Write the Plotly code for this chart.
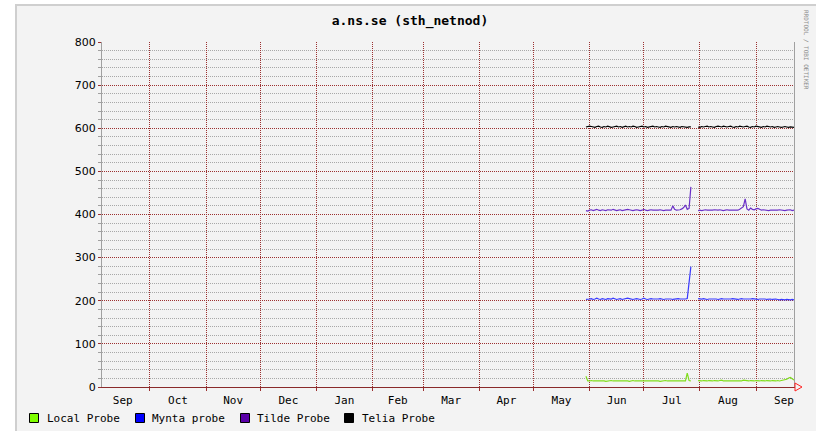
import pandas as pd
import plotly.graph_objects as go

# ---------------- data ----------------
dates_a = pd.date_range("2005-05-30", "2005-07-27", freq="D")   # 59 days
dates_b = pd.date_range("2005-07-31", "2005-09-22", freq="D")   # 54 days
gap_date = pd.Timestamp("2005-07-29")

local_a = [25, 14, 14, 15, 14, 14, 15, 14, 14, 15,
           14, 13, 14, 15, 15, 14, 14, 15, 14, 14,
           14, 15, 14, 14, 13, 14, 15, 14, 14, 15,
           14, 14, 15, 14, 14, 14, 15, 14, 14, 15,
           14, 13, 14, 14, 15, 14, 14, 14, 15, 14,
           14, 14, 15, 14, 14, 14, 32, 15, 14]
local_b = [15, 14, 14, 15, 14, 14, 15, 14, 14, 15,
           14, 14, 15, 16, 14, 14, 15, 14, 14, 15,
           14, 14, 15, 14, 14, 16, 15, 14, 14, 15,
           14, 14, 15, 14, 14, 15, 14, 14, 15, 14,
           14, 15, 14, 14, 15, 14, 15, 16, 17, 18,
           21, 22, 19, 16]

mynta_a = [203, 203, 204, 205, 203, 204, 206, 204, 203, 205,
           204, 203, 205, 204, 204, 206, 204, 203, 204, 205,
           203, 204, 204, 206, 205, 204, 203, 204, 205, 204,
           203, 204, 206, 204, 203, 204, 205, 204, 204, 203,
           204, 205, 204, 203, 204, 204, 205, 204, 203, 204,
           204, 205, 204, 204, 203, 204, 205, 241, 279]
mynta_b = [205, 204, 204, 205, 204, 203, 204, 204, 205, 204,
           204, 203, 204, 205, 204, 204, 203, 204, 204, 205,
           204, 204, 203, 204, 205, 204, 204, 204, 203, 204,
           205, 204, 204, 203, 204, 204, 205, 204, 203, 204,
           204, 203, 204, 204, 203, 202, 203, 202, 202, 203,
           202, 202, 203, 202]

tilde_a = [409, 408, 410, 411, 409, 410, 412, 410, 409, 411,
           410, 409, 411, 410, 410, 412, 410, 409, 410, 411,
           409, 410, 410, 412, 411, 410, 409, 410, 411, 410,
           409, 410, 412, 410, 409, 410, 411, 410, 410, 409,
           410, 411, 410, 409, 410, 410, 411, 410, 420, 412,
           410, 410, 411, 413, 416, 422, 412, 414, 464]
tilde_b = [409, 410, 409, 410, 411, 410, 410, 409, 410, 411,
           410, 410, 411, 410, 409, 410, 411, 410, 410, 411,
           410, 411, 410, 412, 416, 418, 436, 413, 410, 415,
           412, 411, 413, 414, 412, 410, 411, 410, 410, 409,
           410, 410, 409, 410, 410, 411, 410, 409, 409, 410,
           410, 411, 409, 410]

telia_a = [603, 604, 605, 604, 603, 602, 604, 605, 603, 602,
           604, 603, 605, 604, 602, 603, 604, 605, 603, 604,
           602, 604, 605, 603, 604, 603, 605, 604, 602, 603,
           604, 605, 603, 604, 602, 603, 604, 605, 603, 604,
           603, 602, 604, 603, 605, 604, 603, 602, 604, 603,
           604, 603, 602, 604, 603, 603, 602, 603, 603]
telia_b = [603, 602, 604, 603, 604, 605, 603, 604, 603, 602,
           604, 605, 604, 603, 605, 604, 603, 604, 605, 603,
           602, 604, 603, 605, 604, 603, 604, 605, 603, 602,
           604, 603, 605, 604, 603, 602, 604, 603, 605, 604,
           603, 604, 602, 603, 604, 603, 602, 603, 604, 603,
           602, 603, 603, 602]

series_names = ["Local Probe", "Mynta probe", "Tilde Probe", "Telia Probe"]
line_colors = ["#80dd1c", "#3a3aff", "#6a30c8", "#000000"]
legend_colors = ["#80ff00", "#0000ff", "#5a00a8", "#000000"]
y_range = [0, 800]
x_range = ["2004-09-04 12:00", "2005-09-22 00:00"]
title_text = "a.ns.se (sth_netnod)"

# ---------------- figure ----------------
W, H = 816, 431
L, R, T, B = 102, 22, 42, 44
PW, PH = W - L - R, H - T - B


def px_x(p):
    return (p - L) / PW


def px_y(p):
    return (H - B - p) / PH


x_all = list(dates_a) + [gap_date] + list(dates_b)
all_series = [(local_a, local_b), (mynta_a, mynta_b), (tilde_a, tilde_b), (telia_a, telia_b)]

fig = go.Figure()
for (sa, sb), name, col in zip(all_series, series_names, line_colors):
    fig.add_trace(go.Scatter(
        x=x_all, y=list(sa) + [None] + list(sb), mode="lines", name=name,
        line=dict(color=col, width=1.2), connectgaps=False, showlegend=False,
        hoverinfo="x+y+name"))

shapes = []
# outer canvas frame
shapes.append(dict(type="rect", xref="paper", yref="paper",
                   x0=px_x(16), x1=px_x(818), y0=px_y(433), y1=px_y(5),
                   fillcolor="#f3f3f3", line=dict(color="#cfcfcf", width=2), layer="below"))

# legend squares + labels
leg_sq_x = [34, 140, 245, 349]
leg_tx_x = [45, 150, 255, 360]
leg_y = 418
annotations = []
for name, col, sx, tx in zip(series_names, legend_colors, leg_sq_x, leg_tx_x):
    shapes.append(dict(type="rect", xref="paper", yref="paper",
                       xsizemode="pixel", ysizemode="pixel",
                       xanchor=px_x(sx), yanchor=px_y(leg_y),
                       x0=-4.5, x1=4.5, y0=-4.5, y1=4.5,
                       fillcolor=col, line=dict(color="#000000", width=1)))
    annotations.append(dict(x=px_x(tx), y=px_y(leg_y), xref="paper", yref="paper",
                            text=name, showarrow=False, xanchor="left", yanchor="middle",
                            font=dict(family="DejaVu Sans Mono", size=11, color="#000000")))

# red arrow at end of x axis
shapes.append(dict(type="path", xref="paper", yref="paper",
                   xsizemode="pixel", ysizemode="pixel",
                   xanchor=px_x(795), yanchor=px_y(387),
                   path="M 0 -4 L 7 0 L 0 4 Z",
                   line=dict(color="#ff2020", width=1), fillcolor="rgba(0,0,0,0)"))

annotations.append(dict(x=px_x(807), y=px_y(50), xref="paper", yref="paper",
                        text="RRDTOOL / TOBI OETIKER", showarrow=False, textangle=90,
                        xanchor="center", yanchor="middle",
                        font=dict(family="DejaVu Sans Mono", size=6, color="#8a8a8a")))

major_grid = "#9c3030"
minor_grid = "#a8a8a8"
dots = "1px,1px"

fig.update_layout(
    width=W, height=H,
    margin=dict(l=L, r=R, t=T, b=B, pad=0),
    paper_bgcolor="#ffffff", plot_bgcolor="#ffffff",
    showlegend=False,
    title=dict(text="<b>" + title_text + "</b>", x=410 / W, xanchor="center",
               y=1 - 20 / H, yanchor="middle",
               font=dict(family="DejaVu Sans Mono", size=13, color="#000000")),
    shapes=shapes, annotations=annotations,
    xaxis=dict(type="date", range=x_range, dtick="M1", tick0="2004-10-01",
               ticklabelmode="period", tickformat="%b",
               showgrid=True, gridcolor=major_grid, griddash=dots, gridwidth=1,
               ticks="outside", ticklen=3, tickcolor=major_grid,
               showline=True, linecolor="#8a2a2a", linewidth=1,
               zeroline=False, fixedrange=True,
               tickfont=dict(family="DejaVu Sans Mono", size=11, color="#000000")),
    yaxis=dict(range=y_range, dtick=100, tick0=0,
               showgrid=True, gridcolor=major_grid, griddash=dots, gridwidth=1,
               ticks="outside", ticklen=3, tickcolor=major_grid,
               showline=True, linecolor="#a0a0a0", linewidth=1, mirror=True,
               zeroline=False, fixedrange=True,
               minor=dict(dtick=20, showgrid=True, gridcolor=minor_grid, griddash=dots,
                          ticks="outside", ticklen=3, tickcolor="#a0a0a0"),
               tickfont=dict(family="DejaVu Sans", size=11, color="#000000")),
)

fig.write_html("out.html", post_script="document.body.style.margin='0';",
               config={"displayModeBar": False})
